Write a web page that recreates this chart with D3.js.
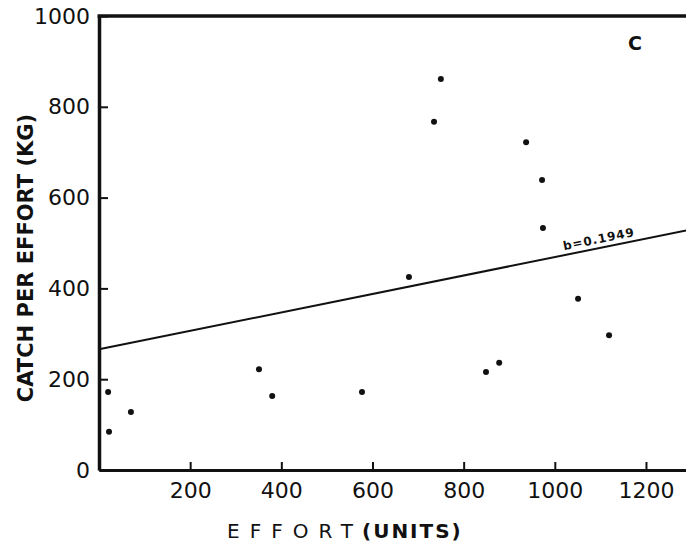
<!doctype html>
<html lang="en">
	<head>
		<meta charset="utf-8" />
		<title>Catch per effort vs effort</title>
		<script type="text/javascript" src="https://d3js.org/d3.v7.min.js"></script>
		<style>
			body { margin: 0; background: #fff; }
			svg { display: block; }
		</style>
	</head>
	<body>
		<script type="text/javascript">
			// values
			var effort = [20, 22, 70, 351, 380, 577, 680, 735, 750, 849, 878, 937, 972, 974, 1051, 1119];
			var catchPerEffort = [172, 84, 128, 222, 163, 172, 425, 767, 861, 216, 236, 722, 639, 533, 377, 297];
			var xTicks = [200, 400, 600, 800, 1000, 1200];
			var yTicks = [0, 200, 400, 600, 800, 1000];
			var lineIntercept = 266;
			var lineSlope = 0.203;
			var slopeLabel = "b=0.1949";

			var w = 686;
			var h = 547;
			var ink = "#111";

			var svg = d3.select("body")
				.append("svg")
				.attr("width", w)
				.attr("height", h);

			var x = d3.scaleLinear().domain([0, 1290]).range([99, 687]);
			var y = d3.scaleLinear().domain([0, 1000]).range([470, 16]);

			// regression line
			svg.append("line")
				.attr("x1", x(0))
				.attr("y1", y(lineIntercept))
				.attr("x2", x(1290))
				.attr("y2", y(lineIntercept + lineSlope * 1290))
				.attr("stroke", ink)
				.attr("stroke-width", 2);

			var ang = Math.atan2(y(lineIntercept + lineSlope * 1100) - y(lineIntercept), x(1100) - x(0)) * 180 / Math.PI;
			var lx = x(1020), ly = y(lineIntercept + lineSlope * 1020) - 5;
			svg.append("text")
				.attr("transform", "translate(" + lx + "," + ly + ") rotate(" + ang + ")")
				.attr("font-family", "DejaVu Sans")
				.attr("font-size", "12px")
				.attr("font-weight", "bold")
				.attr("letter-spacing", "1px")
				.attr("fill", ink)
				.text(slopeLabel);

			// points
			svg.selectAll("circle.pt")
				.data(effort)
				.enter()
				.append("circle")
				.attr("class", "pt")
				.attr("cx", function(d) { return x(d); })
				.attr("cy", function(d, i) { return y(catchPerEffort[i]); })
				.attr("r", 3)
				.attr("fill", ink);

			// axes
			var yAxis = svg.append("g")
				.attr("transform", "translate(" + x(0) + ",0)")
				.call(d3.axisLeft(y).tickValues(yTicks).tickFormat(d3.format("d"))
					.tickSizeInner(-9).tickSizeOuter(0).tickPadding(9));
			var xAxis = svg.append("g")
				.attr("transform", "translate(0," + y(0) + ")")
				.call(d3.axisBottom(x).tickValues(xTicks).tickFormat(d3.format("d"))
					.tickSizeInner(-8).tickSizeOuter(0).tickPadding(12));

			yAxis.select(".domain").attr("stroke", ink).attr("stroke-width", 3.5);
			xAxis.select(".domain").attr("stroke", ink).attr("stroke-width", 3);
			svg.selectAll(".tick line").attr("stroke", ink).attr("stroke-width", 2);
			svg.selectAll(".tick text")
				.attr("font-family", "DejaVu Sans")
				.attr("font-size", "22px")
				.attr("fill", ink);

			// top frame line
			svg.append("line")
				.attr("x1", x(0) - 1.5)
				.attr("x2", w)
				.attr("y1", y(1000))
				.attr("y2", y(1000))
				.attr("stroke", ink)
				.attr("stroke-width", 3.5);

			// panel letter
			svg.append("text")
				.attr("x", 635)
				.attr("y", 50)
				.attr("text-anchor", "middle")
				.attr("font-family", "DejaVu Sans")
				.attr("font-size", "19px")
				.attr("font-weight", "bold")
				.attr("fill", ink)
				.text("C");

			// axis titles
			svg.append("text")
				.attr("transform", "translate(33,258) rotate(-90)")
				.attr("text-anchor", "middle")
				.attr("font-family", "DejaVu Sans")
				.attr("font-size", "21px")
				.attr("font-weight", "bold")
				.attr("fill", ink)
				.text("CATCH PER EFFORT (KG)");

			var xt = svg.append("text")
				.attr("y", 538)
				.attr("font-family", "DejaVu Sans")
				.attr("font-size", "20px")
				.attr("fill", ink);
			xt.append("tspan")
				.attr("x", 227)
				.attr("letter-spacing", "10px")
				.text("EFFORT");
			xt.append("tspan")
				.attr("x", 362)
				.attr("letter-spacing", "2px")
				.attr("font-weight", "bold")
				.text("(UNITS)");
		</script>
	</body>
</html>
